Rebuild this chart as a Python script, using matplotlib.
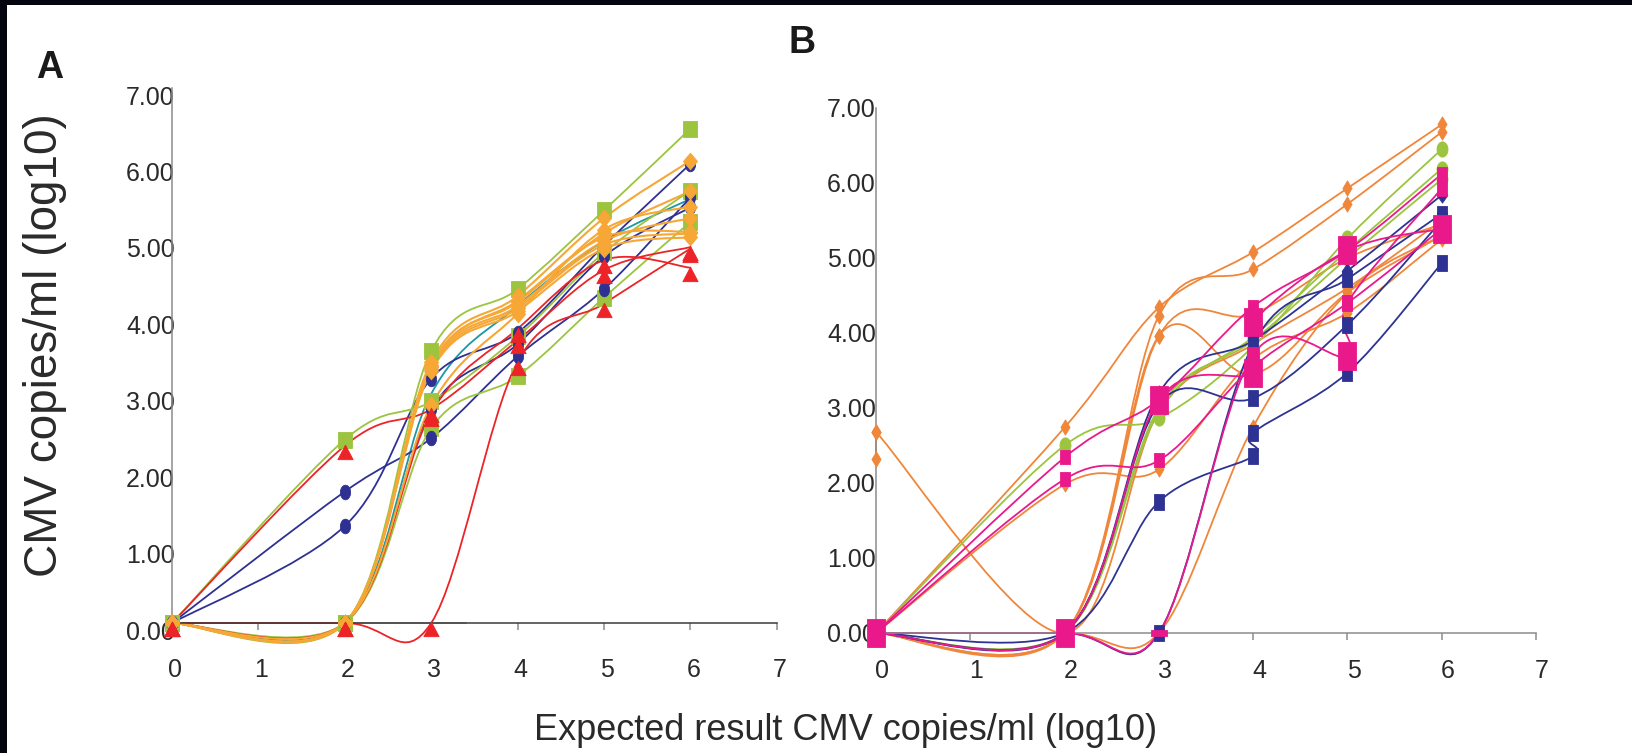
import numpy as np
import matplotlib
matplotlib.use("Agg")
import matplotlib.pyplot as plt
from matplotlib.path import Path
from matplotlib.patches import PathPatch, Rectangle
from matplotlib.markers import MarkerStyle
from matplotlib.transforms import ScaledTranslation

plt.rcParams["font.family"] = ["Liberation Sans", "DejaVu Sans"]

# ---------------- Panel A (log10 copies/ml) ----------------
A_X = [0, 2, 3, 4, 5, 6]

A_GREEN = [
    [0, 0, 3.56, 4.37, 5.40, 6.47],
    [0, 2.40, 2.90, 3.75, 4.85, 5.66],
    [0, 0, 2.55, 3.23, 4.26, 5.25],
]
A_BLUE = [
    [0, 1.72, 2.42, 3.49, 4.37, 5.57],
    [0, 1.27, 3.20, 3.80, 4.94, 6.01],
    [0, 0, 2.80, 3.65, 4.80, 5.44],
]
A_ORANGE = [
    [0, 0, 3.42, 4.28, 5.30, 6.05],
    [0, 0, 3.38, 4.20, 5.10, 5.65],
    [0, 0, 3.35, 4.15, 5.00, 5.30],
    [0, 0, 3.32, 4.12, 4.95, 5.10],
    [0, 0, 3.30, 4.08, 4.90, 5.05],
    [0, 0, 3.36, 4.22, 5.05, 5.12],
    [0, 0, 2.85, 4.05, 5.15, 5.45],
]
A_RED = [
    [0, 2.32, 2.80, 3.70, 4.62, 4.92],
    [0, 0, 0, 3.42, 4.18, 4.90],
    [0, 0, 2.75, 3.85, 4.75, 4.65],
]
A_TEAL = [0, 0, 3.00, 4.15, 5.00, 5.55]

# ---------------- Panel B (log10 copies/ml) ----------------
B_X = [0, 2, 3, 4, 5, 6]

B_ORANGE = [
    [0, 2.74, 4.34, 5.08, 5.93, 6.78],
    [0, 0, 4.23, 4.85, 5.72, 6.68],
    [0, 0, 3.96, 4.25, 5.00, 5.45],
    [0, 0, 3.96, 3.45, 4.54, 5.30],
    [0, 0, 0, 2.75, 4.54, 5.30],
    [0, 1.98, 2.18, 3.65, 4.27, 5.25],
    [2.68, 0, 2.95, 3.85, 4.60, 5.50],
]
# replicate pair of negative-sample results, both at x = 0
B_ORANGE_PAIR_X = [0, 0]
B_ORANGE_PAIR = [2.32, 2.68]

B_GREEN = [
    [0, 2.50, 2.86, 3.82, 5.26, 6.45],
    [0, 0, 2.95, 3.95, 5.10, 6.19],
    [0, 0, 3.00, 3.90, 5.00, 6.05],
]
B_NAVY_REP_X = [0, 2, 3, 4, 4, 5, 6]
B_NAVY_REP = [0, 0, 1.75, 2.36, 2.67, 3.47, 4.93]
B_NAVY = [
    [0, 0, 3.20, 3.90, 4.83, 5.84],
    [0, 0, 0, 3.85, 4.72, 5.59],
    [0, 0, 3.05, 3.13, 4.11, 5.50],
]
B_MAGENTA = [
    [0, 2.34, 3.11, 4.35, 5.10, 6.12],
    [0, 2.05, 2.30, 3.55, 4.40, 5.39],
]
B_MAGENTA_BIG_X = [0, 2, 3, 4, 4, 5, 6]
B_MAGENTA_BIG = [0, 0, 3.11, 3.47, 4.14, 5.10, 5.39]
B_MAGENTA_LATE_X = [0, 2, 3, 4, 5, 5, 6]
B_MAGENTA_LATE = [0, 0, 0, 3.71, 3.69, 4.40, 5.93]
# marker size used at each point of the late-rising magenta series (0 = dash)
B_MAGENTA_LATE_MS = [10, 10, 0, 12, 19.5, 11, 11]

# ---------------- styling ----------------
C_GREEN = "#9cc43e"
C_BLUE = "#2e3192"
C_ORANGE_A = "#f6a735"
C_RED = "#ec2327"
C_TEAL = "#1b98a3"
C_ORANGE_B = "#f0863a"
C_NAVY = "#2e3393"
C_MAGENTA = "#e9198c"
AXIS_GREY = "#8c8c8c"
TEXT = "#2a2a2a"


def box(w, h):
    return MarkerStyle(Path([(-w, -h), (w, -h), (w, h), (-w, h), (-w, -h)], closed=True))


def ellipse(w, h):
    t = np.linspace(0, 2 * np.pi, 40)
    return MarkerStyle(Path(np.column_stack([w * np.cos(t), h * np.sin(t)]), closed=True))


def diamond(w, h):
    return MarkerStyle(Path([(0, -h), (w, 0), (0, h), (-w, 0), (0, -h)], closed=True))


def hanging_triangle():
    return MarkerStyle(Path([(0, 0.1), (-0.58, -1.0), (0.58, -1.0), (0, 0.1)], closed=True))


DASH = box(1.0, 0.32)


def smooth(ax, xs, ys, color, lw=1.3, z=2):
    """Smoothed (Catmull-Rom style) connecting curve through the points."""
    P = np.column_stack([xs, ys]).astype(float)
    n = len(P)
    verts = [P[0]]
    codes = [Path.MOVETO]
    for i in range(n - 1):
        p0 = P[i - 1] if i > 0 else P[i]
        p1, p2 = P[i], P[i + 1]
        p3 = P[i + 2] if i + 2 < n else P[i + 1]
        verts += [p1 + (p2 - p0) / 6.0, p2 - (p3 - p1) / 6.0, p2]
        codes += [Path.CURVE4] * 3
    patch = PathPatch(Path(verts, codes), fill=False, edgecolor=color, lw=lw,
                      capstyle="round", joinstyle="round", zorder=z, clip_on=False)
    ax.add_patch(patch)


def marks(ax, xs, ys, color, marker, ms, z=4):
    ax.plot(xs, ys, ls="none", marker=marker, ms=ms, mfc=color, mec=color,
            mew=0.6, zorder=z, clip_on=False)


fig = plt.figure(figsize=(16.33, 7.53), dpi=100)
fig.patch.set_facecolor("white")

axA = fig.add_axes([0.08947, 0.1219, 0.3968, 0.7610])
axB = fig.add_axes([0.5191, 0.1096, 0.4331, 0.7470])

for ax in (axA, axB):
    ax.set_xlim(-0.3, 7.2)
    ax.set_ylim(-0.5, 7.0)
    ax.patch.set_alpha(0)
    for s in ("top", "right"):
        ax.spines[s].set_visible(False)
    ax.spines["left"].set_position(("data", 0))
    ax.spines["left"].set_bounds(0, 7)
    ax.spines["left"].set_color(AXIS_GREY)
    ax.spines["left"].set_linewidth(1.1)
    ax.spines["bottom"].set_position(("data", 0))
    ax.spines["bottom"].set_bounds(0, 7)
    ax.spines["bottom"].set_linewidth(1.1)
    ax.set_xticks(range(0, 8))
    ax.set_yticks(range(0, 8))
    ax.set_yticklabels([f"{v:.2f}" for v in range(0, 8)])
    ax.tick_params(axis="y", length=0, labelsize=18, labelcolor=TEXT)
    ax.tick_params(axis="x", direction="out", length=5, width=1.1,
                   color=AXIS_GREY, labelsize=18, labelcolor=TEXT)

# Panel A axes details
axA.spines["bottom"].set_color("#3a3a3a")
axA.axhline(0, xmin=(0 + 0.3) / 7.5, xmax=(3.4 + 0.3) / 7.5, color="#a8a8a8",
            lw=1.3, zorder=1.5)
axA.tick_params(axis="x", pad=20)
axA.tick_params(axis="y", pad=-2)
for lab in axA.get_yticklabels():
    lab.set_transform(lab.get_transform() + ScaledTranslation(0, -0.07, fig.dpi_scale_trans))
for lab in axA.get_xticklabels():
    lab.set_transform(lab.get_transform() + ScaledTranslation(0.03, 0, fig.dpi_scale_trans))

axB.spines["bottom"].set_color(AXIS_GREY)
axB.tick_params(axis="x", pad=14)
axB.tick_params(axis="y", pad=0)
for lab in axB.get_xticklabels():
    lab.set_transform(lab.get_transform() + ScaledTranslation(0.06, 0, fig.dpi_scale_trans))

# ---------------- draw panel A ----------------
smooth(axA, A_X, A_TEAL, C_TEAL)
for ys in A_BLUE:
    smooth(axA, A_X, ys, C_BLUE)
for ys in A_GREEN:
    smooth(axA, A_X, ys, C_GREEN)
for ys in A_RED:
    smooth(axA, A_X, ys, C_RED)
for ys in A_ORANGE:
    smooth(axA, A_X, ys, C_ORANGE_A, lw=1.5)

for ys in A_GREEN:
    marks(axA, A_X, ys, C_GREEN, box(0.87, 1.0), 12)
for ys in A_BLUE:
    marks(axA, A_X, ys, C_BLUE, ellipse(0.7, 1.0), 10.5)
for ys in A_ORANGE:
    marks(axA, A_X, ys, C_ORANGE_A, diamond(0.85, 1.0), 12)
for ys in A_RED:
    marks(axA, A_X, ys, C_RED, hanging_triangle(), 19)

# ---------------- draw panel B ----------------
for ys in B_ORANGE:
    smooth(axB, B_X, ys, C_ORANGE_B)
smooth(axB, B_ORANGE_PAIR_X, B_ORANGE_PAIR, C_ORANGE_B)
for ys in B_GREEN:
    smooth(axB, B_X, ys, C_GREEN)
smooth(axB, B_NAVY_REP_X, B_NAVY_REP, C_NAVY)
for ys in B_NAVY:
    smooth(axB, B_X, ys, C_NAVY)
for ys in B_MAGENTA:
    smooth(axB, B_X, ys, C_MAGENTA)
smooth(axB, B_MAGENTA_BIG_X, B_MAGENTA_BIG, C_MAGENTA)
smooth(axB, B_MAGENTA_LATE_X, B_MAGENTA_LATE, C_MAGENTA)

for ys in B_ORANGE:
    marks(axB, B_X, ys, C_ORANGE_B, diamond(0.6, 1.0), 11)
marks(axB, B_ORANGE_PAIR_X, B_ORANGE_PAIR, C_ORANGE_B, diamond(0.6, 1.0), 11)
for ys in B_GREEN:
    marks(axB, B_X, ys, C_GREEN, ellipse(0.72, 1.0), 11)
marks(axB, B_NAVY_REP_X, B_NAVY_REP, C_NAVY, box(0.68, 1.0), 11.5)
marks(axB, B_X, B_NAVY[0], C_NAVY, diamond(0.7, 1.0), 11)
marks(axB, B_X, B_NAVY[1], C_NAVY, box(0.68, 1.0), 11.5)
marks(axB, B_X, B_NAVY[2], C_NAVY, box(0.68, 1.0), 11.5)
for ys in B_MAGENTA:
    marks(axB, B_X, ys, C_MAGENTA, box(0.7, 1.0), 10.5)
for xv, yv, ms in zip(B_MAGENTA_LATE_X, B_MAGENTA_LATE, B_MAGENTA_LATE_MS):
    if ms == 0:
        marks(axB, [xv], [yv], C_MAGENTA, DASH, 12, z=5)
    else:
        marks(axB, [xv], [yv], C_MAGENTA, box(0.68, 1.0), ms)
marks(axB, B_MAGENTA_BIG_X, B_MAGENTA_BIG, C_MAGENTA, box(0.68, 1.0), 19.5)

# ---------------- labels ----------------
fig.text(50 / 1633, 1 - 68 / 753, "A", fontsize=27, fontweight="bold",
         ha="center", va="center", color="#1a1a1a")
fig.text(802 / 1633, 1 - 43 / 753, "B", fontsize=27, fontweight="bold",
         ha="center", va="center", color="#1a1a1a")
fig.text(45 / 1633, 1 - 345 / 753, "CMV copies/ml (log10)", rotation=90,
         fontsize=33, ha="center", va="center", color=TEXT)
fig.text(846 / 1633, 1 - 731 / 753, "Expected result CMV copies/ml (log10)",
         fontsize=26, ha="center", va="center", color=TEXT)

# scan border
fig.add_artist(Rectangle((0, 1 - 5 / 753), 1, 5 / 753, transform=fig.transFigure,
                         facecolor="#05050f", edgecolor="none", zorder=100))
fig.add_artist(Rectangle((0, 0), 7 / 1633, 1, transform=fig.transFigure,
                         facecolor="#05050f", edgecolor="none", zorder=100))

fig.savefig("out.png", dpi=100)
